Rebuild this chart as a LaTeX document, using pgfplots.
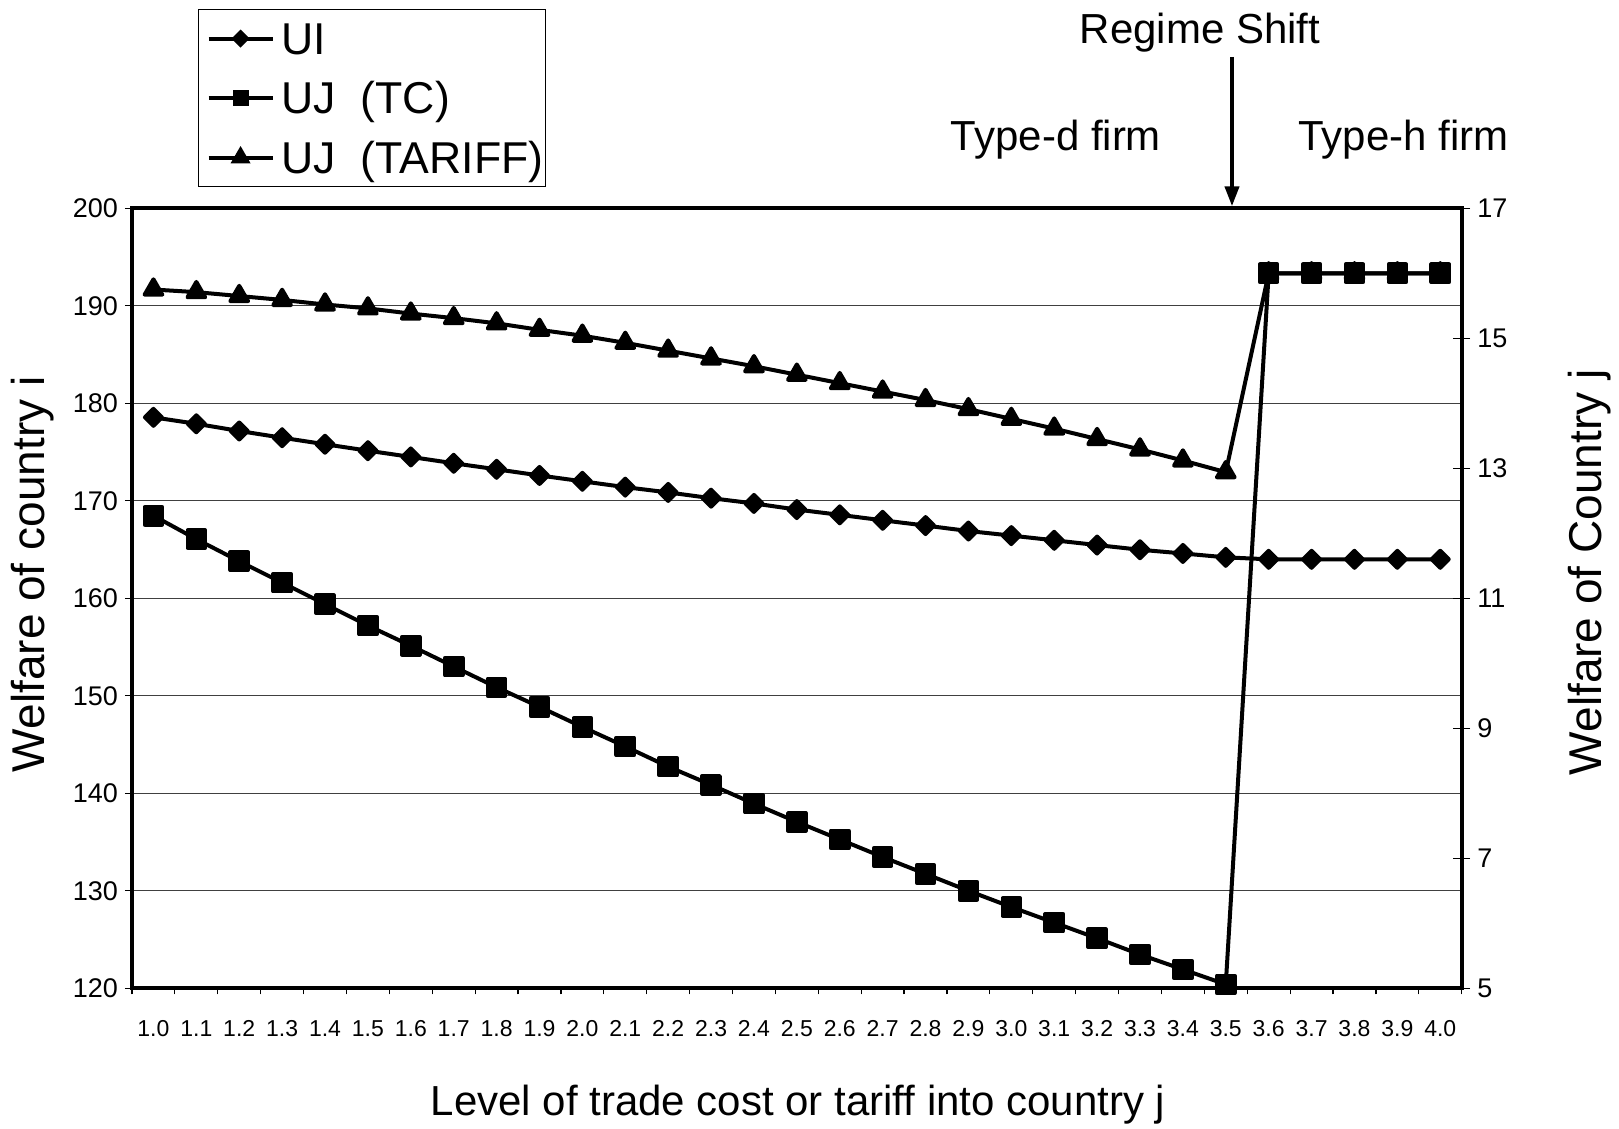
\documentclass[border=0pt]{standalone}
\usepackage{fontspec}
\setmainfont{Liberation Sans}
\usepackage{pgfplots}
\pgfplotsset{compat=1.18}
\usetikzlibrary{arrows.meta}
\begin{document}
\begin{tikzpicture}
\useasboundingbox (-66pt,-70.35pt) rectangle (743.5pt,494.15pt);
\begin{axis}[
  at={(0pt,0pt)}, anchor=south west,
  scale only axis, width=664.85pt, height=390pt,
  xmin=-0.5, xmax=30.5, ymin=120, ymax=200,
  xtick={0,...,30},
  xticklabels={1.0,1.1,1.2,1.3,1.4,1.5,1.6,1.7,1.8,1.9,2.0,2.1,2.2,2.3,2.4,2.5,2.6,2.7,2.8,2.9,3.0,3.1,3.2,3.3,3.4,3.5,3.6,3.7,3.8,3.9,4.0},
  minor xtick={-0.5,0.5,...,30.5},
  ytick={120,130,...,200},
  tick pos=left, tick align=outside,
  major tick length=3.5pt, minor tick length=3pt,
  major x tick style={draw=none},
  tick style={black, line width=0.6pt},
  ymajorgrids, major grid style={black!75, line width=0.6pt},
  axis line style={line width=2pt},
  /pgf/number format/assume math mode=true,
  yticklabel style={font=\fontsize{13.5}{16}\selectfont},
  xticklabel style={font=\fontsize{11.5}{14}\selectfont, yshift=-9pt},
  clip=false,
]
\addplot[black, line width=2pt, line join=round, mark=square*, mark size=3pt, mark options={rotate=45, solid, fill=black}] coordinates {
(0,178.56) (1,177.90) (2,177.16) (3,176.47) (4,175.80) (5,175.14) (6,174.50) (7,173.85) (8,173.23) (9,172.60)
(10,172.00) (11,171.40) (12,170.86) (13,170.27) (14,169.73) (15,169.10) (16,168.56) (17,168.00) (18,167.46) (19,166.90)
(20,166.43) (21,165.95) (22,165.46) (23,164.98) (24,164.60) (25,164.20) (26,164.00) (27,164.00) (28,164.00) (29,164.00) (30,164.00)
};
\end{axis}
\begin{axis}[
  at={(0pt,0pt)}, anchor=south west,
  scale only axis, width=664.85pt, height=390pt,
  xmin=-0.5, xmax=30.5, ymin=5, ymax=17,
  axis x line=none, axis y line*=right,
  ytick={5,7,...,17},
  tick align=center, major tick length=8.5pt,
  tick style={black, line width=0.6pt},
  axis line style={line width=2pt},
  /pgf/number format/assume math mode=true,
  yticklabel style={font=\fontsize{13.5}{16}\selectfont},
  clip=false,
  legend cell align=left,
  legend image code/.code={\path (0pt,0pt) (35.5pt,0pt); \draw[mark repeat=2, mark phase=2, #1] plot coordinates {(3.5pt,0pt) (19.5pt,0pt) (35.5pt,0pt)};},
  legend style={at={(axis description cs:0.0496,1.2555)}, anchor=north west,
    draw=black, line width=0.6pt, font=\fontsize{22.3}{26}\selectfont,
    inner xsep=0.5pt, inner ysep=2.75pt, row sep=6.25pt, column sep=3pt,
    nodes={inner xsep=0.5pt, inner ysep=1pt, text height=18.5pt, text depth=3pt}},
]
\addlegendimage{black, line width=2pt, mark=square*, mark size=2.2pt, mark options={rotate=45, solid, fill=black}}
\addlegendentry{UI}
\addlegendimage{black, line width=2pt, mark=square*, mark size=3pt, mark options={solid, fill=black}}
\addlegendentry{UJ\ \ (TC)}
\addlegendimage{black, line width=2pt, mark=triangle*, mark size=3.8pt, mark options={solid, fill=black}}
\addlegendentry{UJ\ \ (TARIFF)}
\addplot[forget plot, black, line width=2pt, line join=round, mark=triangle*, mark size=5.1pt, mark options={solid, fill=black}] coordinates {
(0,15.75) (1,15.71) (2,15.65) (3,15.59) (4,15.52) (5,15.46) (6,15.38) (7,15.31) (8,15.23) (9,15.13)
(10,15.04) (11,14.93) (12,14.81) (13,14.69) (14,14.57) (15,14.44) (16,14.31) (17,14.18) (18,14.05) (19,13.91)
(20,13.76) (21,13.61) (22,13.45) (23,13.29) (24,13.12) (25,12.94) (26,16.00) (27,16.00) (28,16.00) (29,16.00) (30,16.00)
};
\addplot[forget plot, black, line width=2pt, line join=round, mark=square*, mark size=4.4pt, mark options={solid, fill=black}] coordinates {
(0,12.27) (1,11.91) (2,11.57) (3,11.24) (4,10.91) (5,10.58) (6,10.27) (7,9.95) (8,9.63) (9,9.33)
(10,9.02) (11,8.72) (12,8.41) (13,8.13) (14,7.84) (15,7.56) (16,7.29) (17,7.02) (18,6.76) (19,6.50)
(20,6.25) (21,6.01) (22,5.77) (23,5.52) (24,5.29) (25,5.06) (26,16.00) (27,16.00) (28,16.00) (29,16.00) (30,16.00)
};
\end{axis}
\node[rotate=90, font=\fontsize{23}{27}\selectfont] at (-49.5pt,207pt) {Welfare of country i};
\node[rotate=90, font=\fontsize{23}{27}\selectfont] at (729pt,208pt) {Welfare of Country j};
\node[font=\fontsize{21}{25}\selectfont] at (333pt,-58.35pt) {Level of trade cost or tariff into country j};
\node[font=\fontsize{21}{25}\selectfont] at (534pt,477.65pt) {Regime Shift};
\node[font=\fontsize{21}{25}\selectfont] at (462pt,424.15pt) {Type-d firm};
\node[font=\fontsize{21}{25}\selectfont] at (635.75pt,424.15pt) {Type-h firm};
\draw[line width=2pt, -{Triangle[width=7pt,length=10pt]}] (550pt,465.65pt) -- (550pt,391pt);
\end{tikzpicture}
\end{document}
